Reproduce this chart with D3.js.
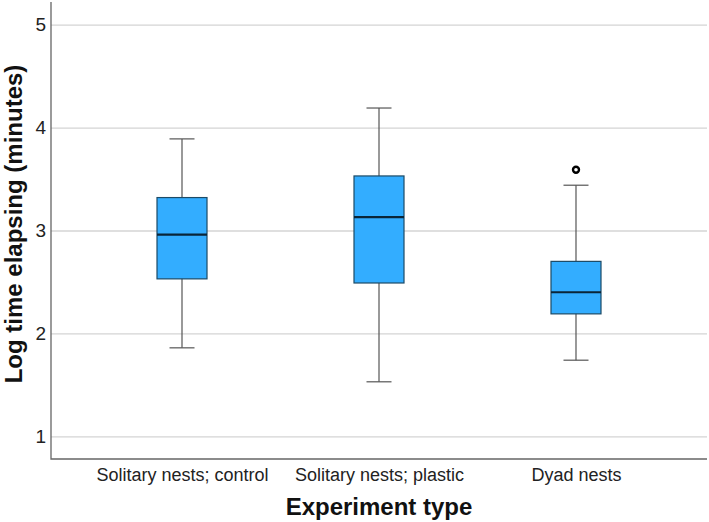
<!DOCTYPE html>
<html>
<head>
<meta charset="utf-8">
<script src="https://cdn.jsdelivr.net/npm/d3@7"></script>
<style>
body { margin: 0; background: #fff; }
text { font-family: Arial, "Liberation Sans", sans-serif; }
</style>
</head>
<body>
<svg width="709" height="522"></svg>
<script>
// group names + five-number summaries
var groups = ["Solitary nests; control", "Solitary nests; plastic", "Dyad nests"]
var whiskerLow = [1.86, 1.53, 1.74]
var q1 = [2.53, 2.49, 2.19]
var median = [2.96, 3.13, 2.40]
var q3 = [3.32, 3.53, 2.70]
var whiskerHigh = [3.89, 4.19, 3.44]
var outliers = [[], [], [3.59]]
var yTicks = [1, 2, 3, 4, 5]

var plotL = 51, plotR = 707, plotT = 2, plotB = 459
var boxW = 50, capW = 25

var svg = d3.select("svg")

var x = d3.scalePoint().domain(groups).range([plotL, plotR]).padding(0.665)
var y = d3.scaleLinear().domain([0.78, 5.22]).range([plotB, plotT])

// gridlines
svg.append("g")
  .attr("transform", "translate(" + plotL + ",0)")
  .call(d3.axisLeft(y).tickValues(yTicks).tickSize(-(plotR - plotL)).tickFormat(""))
  .call(g => g.select(".domain").remove())
  .selectAll("line").attr("stroke", "#d4d4d4").attr("stroke-width", 1.3)

var data = groups.map(function(g, i) {
  return {g: g, lo: whiskerLow[i], q1: q1[i], med: median[i], q3: q3[i], hi: whiskerHigh[i], out: outliers[i]}
})

var box = svg.selectAll(".box").data(data).enter().append("g").attr("class", "box")

box.append("line")
  .attr("x1", d => x(d.g)).attr("x2", d => x(d.g))
  .attr("y1", d => y(d.lo)).attr("y2", d => y(d.hi))
  .attr("stroke", "#555").attr("stroke-width", 1.2)
box.append("line")
  .attr("x1", d => x(d.g) - capW / 2).attr("x2", d => x(d.g) + capW / 2)
  .attr("y1", d => y(d.lo)).attr("y2", d => y(d.lo))
  .attr("stroke", "#555").attr("stroke-width", 1.2)
box.append("line")
  .attr("x1", d => x(d.g) - capW / 2).attr("x2", d => x(d.g) + capW / 2)
  .attr("y1", d => y(d.hi)).attr("y2", d => y(d.hi))
  .attr("stroke", "#555").attr("stroke-width", 1.2)
box.append("rect")
  .attr("x", d => x(d.g) - boxW / 2).attr("width", boxW)
  .attr("y", d => y(d.q3)).attr("height", d => y(d.q1) - y(d.q3))
  .attr("fill", "#33adff").attr("stroke", "#1c4a66").attr("stroke-width", 1.2)
box.append("line")
  .attr("x1", d => x(d.g) - boxW / 2).attr("x2", d => x(d.g) + boxW / 2)
  .attr("y1", d => y(d.med)).attr("y2", d => y(d.med))
  .attr("stroke", "#0a2538").attr("stroke-width", 2.2)
box.selectAll(".out").data(d => d.out.map(v => ({g: d.g, v: v}))).enter().append("circle")
  .attr("cx", d => x(d.g)).attr("cy", d => y(d.v)).attr("r", 3)
  .attr("fill", "#fff").attr("stroke", "#000").attr("stroke-width", 2.4)

// axes
svg.append("g")
  .attr("transform", "translate(" + plotL + ",0)")
  .call(d3.axisLeft(y).tickValues(yTicks).tickSize(0).tickPadding(5).tickFormat(d3.format("d")))
  .call(g => g.select(".domain").remove())
  .selectAll("text").attr("font-size", 19).attr("fill", "#222").style("font-family", "Arial, 'Liberation Sans', sans-serif")

svg.append("g")
  .attr("transform", "translate(0," + plotB + ")")
  .call(d3.axisBottom(x).tickSize(0).tickPadding(9))
  .call(g => g.select(".domain").remove())
  .selectAll("text").attr("font-size", 18).attr("fill", "#222").style("font-family", "Arial, 'Liberation Sans', sans-serif")

svg.append("path")
  .attr("d", "M" + plotL + "," + plotT + "V" + plotB + "H" + plotR)
  .attr("fill", "none").attr("stroke", "#666").attr("stroke-width", 1.3)

svg.append("text")
  .attr("x", 379).attr("y", 515).attr("text-anchor", "middle")
  .attr("font-size", 24).attr("font-weight", "bold").attr("fill", "#111")
  .text("Experiment type")

svg.append("text")
  .attr("transform", "translate(22,224) rotate(-90)")
  .attr("text-anchor", "middle")
  .attr("font-size", 24).attr("font-weight", "bold").attr("fill", "#111")
  .text("Log time elapsing (minutes)")
</script>
</body>
</html>
